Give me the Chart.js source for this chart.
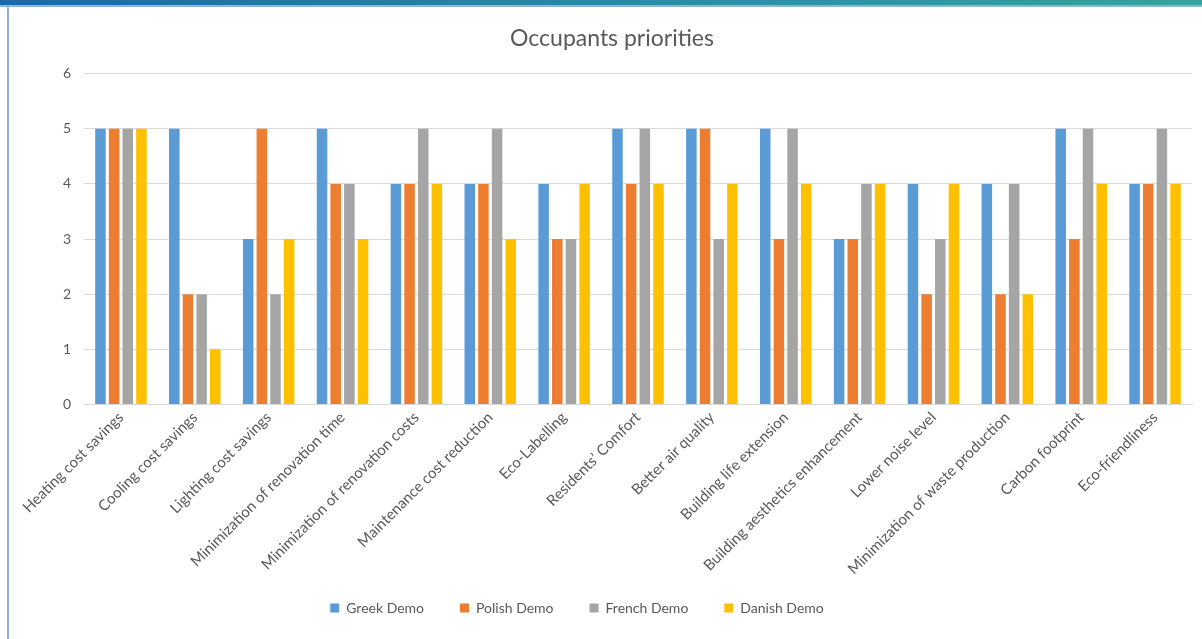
<!DOCTYPE html>
<html>
<head>
<meta charset="utf-8">
<title>Occupants priorities</title>
<script src="https://cdn.jsdelivr.net/npm/chart.js@4.4.1/dist/chart.umd.min.js"></script>
<style>
    html, body { margin: 0; padding: 0; background: #fff; }
    body { width: 1202px; height: 639px; position: relative; overflow: hidden; }
    /* bande du haut (dégradé bleu -> vert d'eau) */
    .top-bar { position: absolute; left: 0; top: 0; width: 1202px; height: 5px;
        background: linear-gradient(to right, #1b69a6, #2a8fa8 60%, #37a398); }
    .top-line { position: absolute; left: 0; top: 5px; width: 1202px; height: 2px; background: #93b4d8; }
    .left-line { position: absolute; left: 7px; top: 5px; width: 2px; height: 634px; background: #8fb0d6; }
    .chart-box { position: absolute; left: 10px; top: 8px; width: 1192px; height: 631px; }
</style>
</head>
<body>
<div class="top-bar"></div>
<div class="top-line"></div>
<div class="left-line"></div>
<div class="chart-box"><canvas id="priorities"></canvas></div>

<script>
// catégories (axe des x)
const categories = [
    'Heating cost savings', 'Cooling cost savings', 'Lighting cost savings',
    'Minimization of renovation time', 'Minimization of renovation costs',
    'Maintenance cost reduction', 'Eco-Labelling', 'Residents\u2019 Comfort',
    'Better air quality', 'Building life extension', 'Building aesthetics enhancement',
    'Lower noise level', 'Minimization of waste production', 'Carbon footprint',
    'Eco-friendliness'
];

// valeurs par démonstrateur
const greekDemo  = [5, 5, 3, 5, 4, 4, 4, 5, 5, 5, 3, 4, 4, 5, 4];
const polishDemo = [5, 2, 5, 4, 4, 4, 3, 4, 5, 3, 3, 2, 2, 3, 4];
const frenchDemo = [5, 2, 2, 4, 5, 5, 3, 5, 3, 5, 4, 3, 4, 5, 5];
const danishDemo = [5, 1, 3, 3, 4, 3, 4, 4, 4, 4, 4, 4, 2, 4, 4];

const yTicks = [0, 1, 2, 3, 4, 5, 6];

const txtColor = '#595959';
const gridColor = '#d9d9d9';
const fontFamily = 'Lato, "Noto Sans", sans-serif';

// la légende garde un grand écart horizontal mais on lui retire de la hauteur
// et on la décale un peu vers la gauche comme dans l'original
const legendShift = { x: -35, y: -17 };
const legendTweak = {
    id: 'legendTweak',
    afterInit(chart) {
        const lg = chart.legend;
        if (!lg) return;
        const fit = lg.fit.bind(lg);
        lg.fit = () => { fit(); lg.height += legendShift.y; };
        lg.draw = () => {
            if (!lg.options.display) return;
            lg.ctx.save();
            lg.ctx.translate(legendShift.x, legendShift.y);
            lg._draw(); // sans le clip de la boîte
            lg.ctx.restore();
        };
    }
};

function ds(label, data, color) {
    return { label, data, backgroundColor: color, borderWidth: 0,
             barPercentage: 0.77, categoryPercentage: 0.74 };
}

new Chart(document.getElementById('priorities'), {
    type: 'bar',
    data: {
        labels: categories,
        datasets: [
            ds('Greek Demo', greekDemo, '#5b9bd5'),
            ds('Polish Demo', polishDemo, '#ed7d31'),
            ds('French Demo', frenchDemo, '#a5a5a5'),
            ds('Danish Demo', danishDemo, '#ffc000')
        ]
    },
    plugins: [legendTweak],
    options: {
        responsive: true,
        maintainAspectRatio: false,
        animation: false,
        layout: { padding: { left: 22, right: 10, top: 13, bottom: 14 } },
        plugins: {
            title: {
                display: true,
                text: 'Occupants priorities',
                color: txtColor,
                font: { family: fontFamily, size: 23, weight: 'normal' },
                padding: { top: 4, bottom: 21 }
            },
            legend: {
                position: 'bottom',
                labels: {
                    color: txtColor,
                    font: { family: fontFamily, size: 14 },
                    boxWidth: 9, boxHeight: 9,
                    padding: 36
                }
            },
            tooltip: { enabled: false }
        },
        scales: {
            x: {
                grid: { display: false, drawTicks: false },
                border: { color: gridColor, width: 1 },
                ticks: {
                    color: txtColor,
                    font: { family: fontFamily, size: 15 },
                    minRotation: 45, maxRotation: 45,
                    autoSkip: false, padding: 4
                }
            },
            y: {
                min: yTicks[0],
                max: yTicks[yTicks.length - 1],
                afterBuildTicks: axis => { axis.ticks = yTicks.map(v => ({ value: v })); },
                afterFit: axis => { axis.width = 52; },
                grid: { color: gridColor, drawTicks: false },
                border: { display: false },
                ticks: {
                    color: txtColor,
                    font: { family: fontFamily, size: 14 },
                    padding: 13
                }
            }
        }
    }
});
</script>
</body>
</html>
